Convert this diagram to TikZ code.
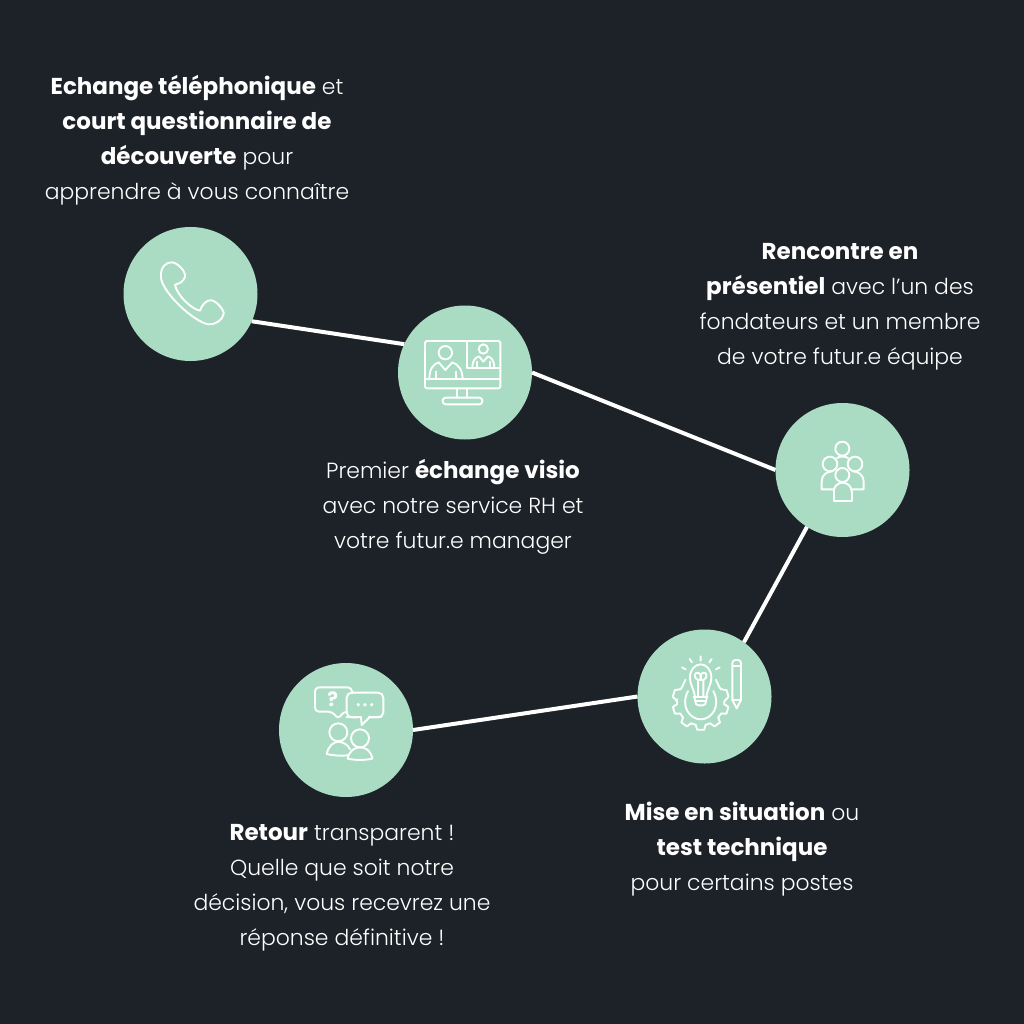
\documentclass[tikz,border=0pt]{standalone}
\usepackage{fontspec}
\setmainfont{Poppins Light}[BoldFont={Poppins Bold},BoldFeatures={Scale=1.05}]
\definecolor{bgc}{HTML}{1D2229}
\definecolor{mint}{HTML}{A9DCC3}
\tikzset{
  stepdot/.style={circle,fill=mint,minimum size=134pt,inner sep=0pt,outer sep=0pt},
  link/.style={draw=white,line width=4pt},
  lbl/.style={text=white,align=center,font=\fontsize{21.9}{35}\selectfont,inner sep=0pt},
  ico/.style={draw=white,line width=1.9pt,line join=round,line cap=round},
  zoomed/.style={x=0.33333pt,y=-0.33333pt}
}
\begin{document}
\begin{tikzpicture}[x=1pt,y=-1pt]
\fill[bgc] (0,0) rectangle (1024,1024);
\useasboundingbox (0,0) rectangle (1024,1024);
\node[stepdot] (n1) at (190.5,294) {};
\node[stepdot] (n2) at (465,372.5) {};
\node[stepdot] (n3) at (842.5,470) {};
\node[stepdot] (n4) at (704.5,696.5) {};
\node[stepdot] (n5) at (346,730) {};
\draw[link] (n1.-24.5) -- (n2.155.4);
\draw[link] (n2.east) -- (n3.west);
\draw[link] (n3.-122) -- (n4.54.8);
\draw[link] (n4.west) -- (n5.east);
% phone
\begin{scope}[shift={(110,220)},zoomed]
\draw[ico] (153,172) .. controls (150,140) and (170,125) .. (187,127)
  .. controls (205,130) and (228,155) .. (225,170)
  .. controls (222,185) and (205,192) .. (195,194)
  .. controls (200,225) and (245,268) .. (270,272)
  .. controls (275,255) and (290,238) .. (305,241)
  .. controls (320,244) and (343,270) .. (341,282)
  .. controls (338,300) and (315,315) .. (295,313)
  .. controls (250,305) and (155,215) .. (153,172) -- cycle;
\end{scope}
% monitor
\begin{scope}[shift={(395,305)},zoomed]
\draw[ico,rounded corners=1.5pt] (90,108) rectangle (316,250);
\draw[ico] (90,223) -- (316,223);
\draw[ico] (215,108) -- (215,190) -- (316,190);
\draw[ico] (187,250) -- (187,278) (217,250) -- (217,278);
\draw[ico,rounded corners=3pt] (143,278) rectangle (262,298);
\draw[ico] (151,143) circle[radius=20];
\draw[ico] (103,223) .. controls (103,190) and (115,178) .. (131,172) -- (151,195) -- (172,172) .. controls (190,178) and (203,195) .. (203,223);
\draw[ico] (122,200) -- (122,222) (182,200) -- (182,222);
\draw[ico] (265,132) circle[radius=14];
\draw[ico] (232,187) .. controls (232,168) and (240,158) .. (252,154) -- (265,170) -- (279,154) .. controls (290,158) and (298,168) .. (298,187);
\draw[ico] (245,170) -- (245,187) (285,170) -- (285,187);
\end{scope}
% group
\begin{scope}[shift={(775,400)},zoomed]
\draw[ico] (202,146) circle[radius=21];
\draw[ico] (165,192) circle[radius=22];
\draw[ico] (240,192) circle[radius=22];
\draw[ico] (202,225) circle[radius=21];
\draw[ico] (186,174) .. controls (195,168) and (210,168) .. (219,174);
\draw[ico] (176,268) -- (140,268) -- (140,245) .. controls (140,225) and (155,214) .. (172,214);
\draw[ico] (230,268) -- (266,268) -- (266,245) .. controls (266,225) and (250,214) .. (233,214);
\draw[ico] (176,275) -- (176,303) -- (230,303) -- (230,275);
\draw[ico] (176,275) .. controls (176,258) and (190,248) .. (203,248) .. controls (216,248) and (230,258) .. (230,275);
\end{scope}
% bulb, gear, pencil
\begin{scope}[shift={(635,630)},zoomed]
\draw[ico] (180,200) .. controls (178,180) and (165,165) .. (165,142) .. controls (165,120) and (180,103) .. (197,103) .. controls (214,103) and (229,120) .. (229,142) .. controls (229,165) and (216,180) .. (214,200);
\draw[ico] (176,200) -- (218,200);
\draw[ico] (189,198) -- (189,150) .. controls (175,145) and (178,125) .. (189,128) .. controls (198,130) and (197,142) .. (197,150);
\draw[ico] (205,198) -- (205,150) .. controls (219,145) and (216,125) .. (205,128) .. controls (196,130) and (197,142) .. (197,150);
\draw[ico] (189,150) -- (205,150);
\draw[ico] (178,200) -- (183,222) -- (190,226) -- (204,226) -- (211,222) -- (216,200);
\draw[ico] (181,212) -- (213,212);
\draw[ico] (197,79) -- (197,92) (164,87) -- (171,97) (230,87) -- (223,97) (141,112) -- (152,118) (254,112) -- (243,118);
\draw[ico] (159,183) .. controls (135,230) and (165,268) .. (197,268) .. controls (229,268) and (259,230) .. (235,183);
\begin{scope}[shift={(197,215)}]
\foreach \a in {18,54,90,126,162} {
  \draw[ico] (\a-12:71) -- (\a-7:85) -- (\a+7:85) -- (\a+12:71);
  \draw[ico] (\a+12:71) -- (\a+24:71);
}
\draw[ico] (6:71) -- (-1:71) -- (-10:85) -- (-24:85) -- (-32:71) -- (-38:71) -- (-55:80);
\draw[ico] (174:71) -- (181:71) -- (190:85) -- (204:85) -- (212:71) -- (218:71) -- (235:80);
\end{scope}
\draw[ico,rounded corners=3pt] (292,210) -- (292,90) -- (318,90) -- (318,210);
\draw[ico] (292,108) -- (318,108);
\draw[ico] (292,210) -- (318,210) -- (305,235) -- cycle;
\end{scope}
% speech
\begin{scope}[shift={(275,660)},zoomed]
\draw[ico,rounded corners=4pt] (214,155) -- (205,155) -- (190,178) -- (172,155) -- (120,155) -- (120,82) -- (230,82) -- (232,100);
\draw[ico,rounded corners=5pt] (215,98) rectangle (325,172);
\fill[mint] (250,165) rectangle (280,178);
\draw[ico] (283,172) -- (260,195) -- (258,172);
\draw[ico] (215,172) -- (258,172) (283,172) -- (318,172);
\node[text=white,font=\fontsize{19}{19}\bfseries\selectfont,inner sep=0pt] (qm) at (173,119) {?};
\fill[white] (250,134) circle[radius=5.5] (270,134) circle[radius=5.5] (290,134) circle[radius=5.5];
\draw[ico] (190,217) circle[radius=27];
\draw[ico] (255,235) circle[radius=27];
\draw[ico] (155,282) .. controls (160,258) and (175,246) .. (190,245) .. controls (205,246) and (220,255) .. (225,268);
\draw[ico] (155,282) .. controls (175,287) and (200,288) .. (218,286);
\draw[ico] (218,296) .. controls (222,272) and (240,262) .. (255,262) .. controls (272,262) and (288,272) .. (292,296) .. controls (270,301) and (240,301) .. (218,296) -- cycle;
\end{scope}
\node[lbl] (t1) at (197,140) {\textbf{Echange téléphonique} et\\\textbf{court questionnaire de}\\\textbf{découverte} pour\\apprendre à vous connaître};
\node[lbl] (t2) at (453,507) {Premier \textbf{échange visio}\\avec notre service RH et\\votre futur.e manager};
\node[lbl] (t3) at (840,307) {\textbf{Rencontre en}\\\textbf{présentiel} avec l’un des\\fondateurs et un membre\\de votre futur.e équipe};
\node[lbl] (t4) at (742,849) {\textbf{Mise en situation} ou\\\textbf{test technique}\\pour certains postes};
\node[lbl] (t5) at (342,888) {\textbf{Retour} transparent !\\Quelle que soit notre\\décision, vous recevrez une\\réponse définitive !};
\end{tikzpicture}
\end{document}
